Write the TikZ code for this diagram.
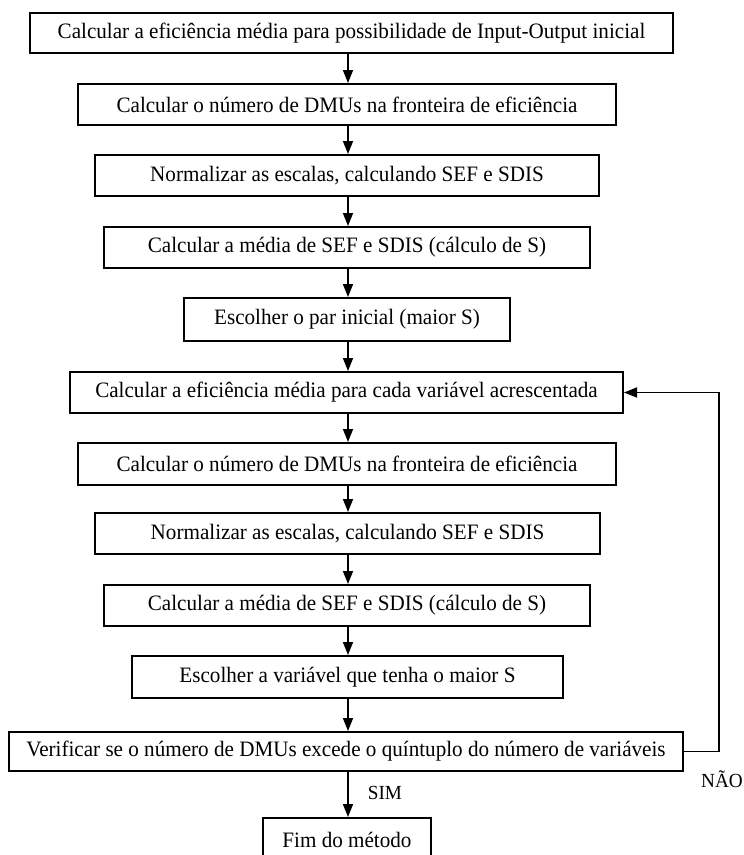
\documentclass[tikz,border=0pt]{standalone}
\usepackage{fontspec}
\setmainfont{Liberation Serif}[FakeStretch=0.96]
\usetikzlibrary{arrows.meta}
\begin{document}
\begin{tikzpicture}[x=1pt,y=-1pt,
  stepbox/.style={draw, line width=2pt, inner sep=0pt, anchor=center, font=\fontsize{22}{24}\selectfont},
  flow/.style={line width=1.6pt, -{Triangle[length=13pt,width=10pt]}},
  lbl/.style={font=\fontsize{20}{22}\selectfont, inner sep=0pt}]
\useasboundingbox (0,0) rectangle (744,855);
\node[stepbox, minimum width=643pt, minimum height=40pt] (b1) at (351.5,33) {Calcular a eficiência média para possibilidade de Input-Output inicial};
\node[stepbox, minimum width=538pt, minimum height=41pt] (b2) at (347,104.5) {Calcular o número de DMUs na fronteira de eficiência};
\node[stepbox, minimum width=504pt, minimum height=41pt] (b3) at (347,175.5) {Normalizar as escalas, calculando SEF e SDIS};
\node[stepbox, minimum width=486pt, minimum height=41pt] (b4) at (347,247.5) {Calcular a média de SEF e SDIS (cálculo de S)};
\node[stepbox, minimum width=326pt, minimum height=43pt] (b5) at (347,319.5) {Escolher o par inicial (maior S)};
\node[stepbox, minimum width=553pt, minimum height=41pt] (b6) at (346.5,392.5) {Calcular a eficiência média para cada variável acrescentada};
\node[stepbox, minimum width=538pt, minimum height=42pt] (b7) at (347,464) {Calcular o número de DMUs na fronteira de eficiência};
\node[stepbox, minimum width=505pt, minimum height=41pt] (b8) at (347.5,533.5) {Normalizar as escalas, calculando SEF e SDIS};
\node[stepbox, minimum width=486pt, minimum height=41pt] (b9) at (347,605.5) {Calcular a média de SEF e SDIS (cálculo de S)};
\node[stepbox, minimum width=431pt, minimum height=42pt] (b10) at (347.5,677) {Escolher a variável que tenha o maior S};
\node[stepbox, minimum width=674pt, minimum height=39pt] (b11) at (346,751.5) {Verificar se o número de DMUs excede o quíntuplo do número de variáveis};
\node[stepbox, minimum width=168pt, minimum height=44pt] (b12) at (347,840) {Fim do método};
\coordinate (X) at (348,0);
\foreach \a/\b in {b1/b2,b2/b3,b3/b4,b4/b5,b5/b6,b6/b7,b7/b8,b8/b9,b9/b10,b10/b11,b11/b12}
  \draw[flow] (\a.south -| X) -- (\b.north -| X);
\coordinate (fb) at (719,751.5);
\draw[flow] (b11.east) -- (fb) |- (b6.east);
\node[lbl] (sim) at (385,793) {SIM};
\node[lbl] (nao) at (722,779) {NÃO};
\end{tikzpicture}
\end{document}
